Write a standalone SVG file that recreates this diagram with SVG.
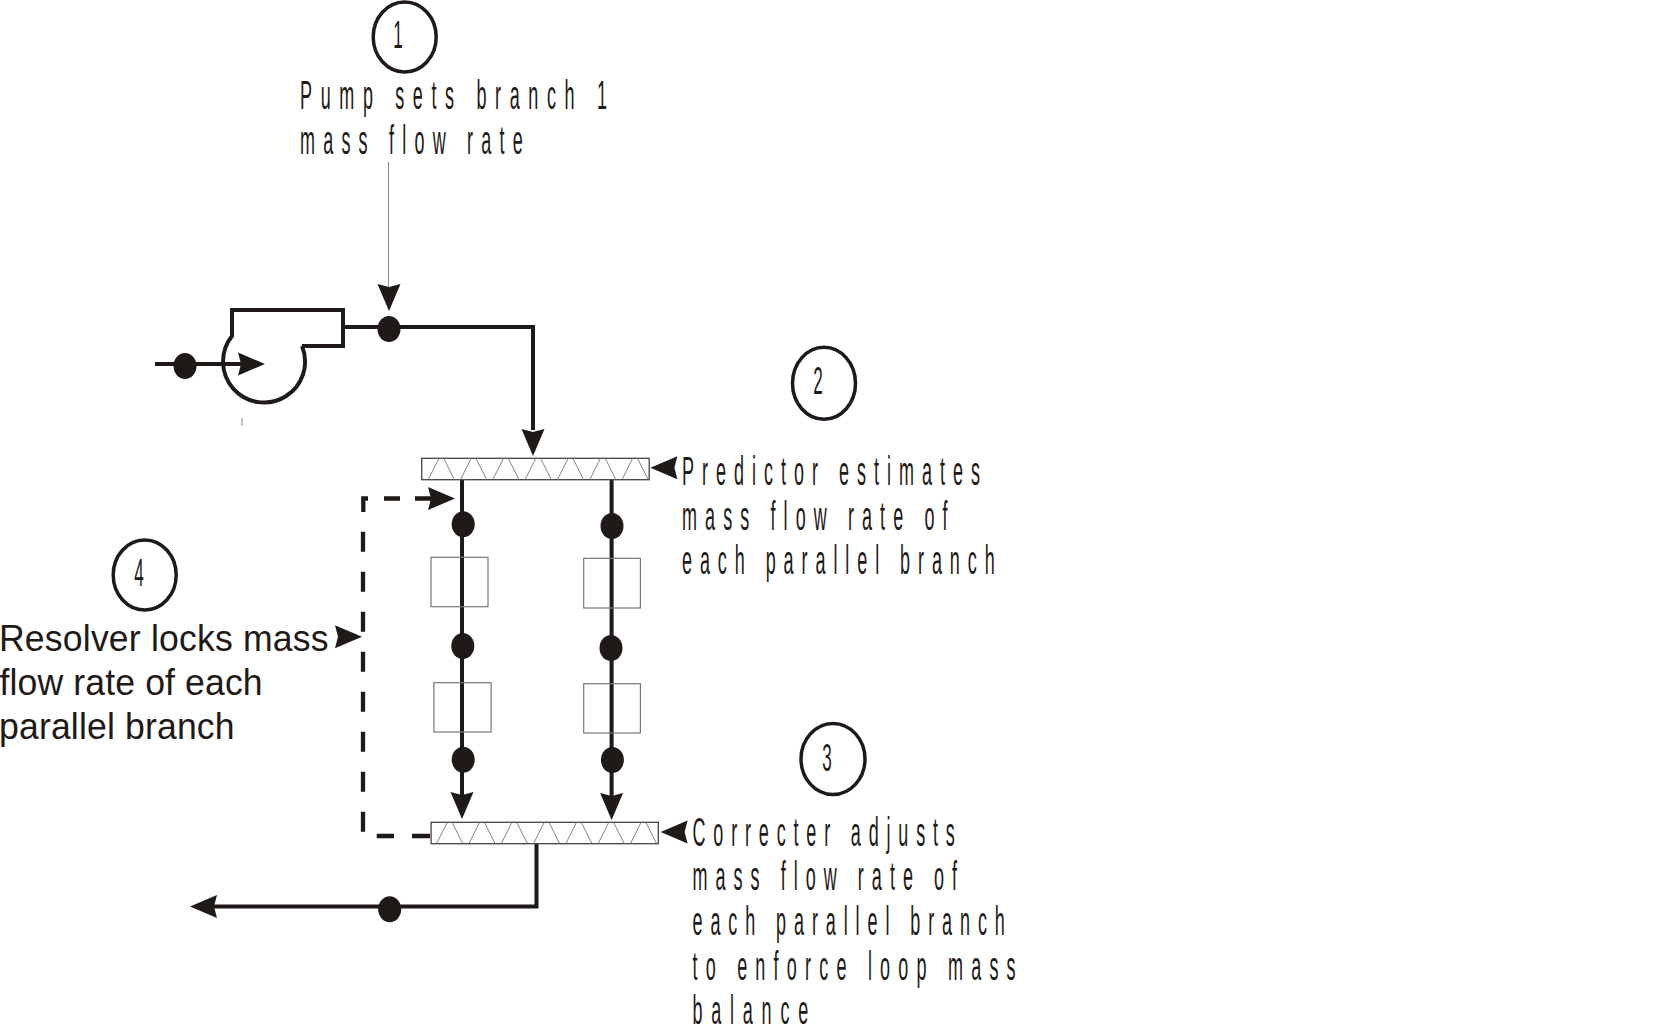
<svg xmlns="http://www.w3.org/2000/svg" width="1656" height="1033" viewBox="0 0 1656 1033">
<style>
.pipe{fill:none;stroke:#1f1a17;stroke-width:4}
.dash{fill:none;stroke:#1f1a17;stroke-width:4.300}
.thin{fill:none;stroke:#8a8a8a;stroke-width:1}
.box{fill:none;stroke:#777;stroke-width:1.200}
.hdr{fill:#fff;stroke:#444;stroke-width:1.300}
.zig{fill:none;stroke:#777;stroke-width:.9}
.dot,.head{fill:#1f1a17}
.circ{fill:#fff;stroke:#1f1a17;stroke-width:3.500}
.n{font-family:"Liberation Sans",Arial,sans-serif;font-size:40px;fill:#1f1a17}
.d{font-family:"Liberation Sans",Arial,sans-serif;font-size:38px;fill:#1f1a17;text-anchor:middle}
.r{font-family:"Liberation Sans",Arial,sans-serif;font-size:37.500px;fill:#1f1a17}
</style>
<defs>
<path id="h" class="head" d="M0 0L-27 -11.500L-24 0L-27 11.500Z"/>
<path id="z" class="zig" d="M0 21L10.500 0M15.500 0L26 21"/>
<ellipse id="d" class="dot" rx="11.500" ry="13"/>
</defs>
<g id="connectors">
<path class="thin" d="M388.500 162V290"/>
<path class="pipe" d="M343 327H533V430"/>
<path class="pipe" d="M155 364H245"/>
<path class="pipe" d="M462 480V800"/>
<path class="pipe" d="M611.600 480V800"/>
<path class="pipe" d="M536.500 844V906.500H210"/>
<path class="dash" d="M430 836H412M394 836H376.700M363 831.700V531.700" stroke-dasharray="20 20"/>
<path class="dash" d="M368 498.500H363.300V512M384 498.500H400M415 498.500H431"/>
<use href="#h" transform="translate(389 311) rotate(90)"/>
<use href="#h" transform="translate(265 364)"/>
<use href="#h" transform="translate(533 456) rotate(90)"/>
<use href="#h" transform="translate(462 819) rotate(90)"/>
<use href="#h" transform="translate(611.600 820) rotate(90)"/>
<use href="#h" transform="translate(190 906.500) rotate(180)"/>
<use href="#h" transform="translate(650.400 467.700) rotate(180)"/>
<use href="#h" transform="translate(660.600 832) rotate(180)"/>
<use href="#h" transform="translate(455 498.500)"/>
<use href="#h" transform="translate(362 636.700)"/>
</g>
<g id="pump">
<path class="pipe" d="M302 346H343V310H232V336A41 41 0 1 0 302 346"/>
<path class="thin" d="M242 418V426"/>
</g>
<g id="dots">
<use href="#d" x="185" y="366"/><use href="#d" x="389" y="329"/><use href="#d" x="389.700" y="909.300"/>
<use href="#d" x="463.200" y="524.300"/><use href="#d" x="462.800" y="646"/><use href="#d" x="463.200" y="759.700"/>
<use href="#d" x="612" y="526"/><use href="#d" x="611" y="648"/><use href="#d" x="612.400" y="760"/>
</g>
<g id="boxes">
<rect class="box" x="431" y="557.300" width="57" height="49.400"/>
<rect class="box" x="433.900" y="682.700" width="57.200" height="49.300"/>
<rect class="box" x="583.700" y="558.300" width="56.700" height="49.700"/>
<rect class="box" x="583.700" y="683.700" width="56.700" height="49.300"/>
</g>
<g id="predictor">
<rect class="hdr" x="421.700" y="458.300" width="227.500" height="21.400"/>
<use href="#z" x="428.300" y="458.500"/><use href="#z" x="460.600" y="458.500"/><use href="#z" x="492.900" y="458.500"/><use href="#z" x="525.200" y="458.500"/><use href="#z" x="557.500" y="458.500"/><use href="#z" x="589.800" y="458.500"/><use href="#z" x="622.100" y="458.500"/>
</g>
<g id="corrector">
<rect class="hdr" x="431.100" y="822.300" width="227.200" height="21.400"/>
<use href="#z" x="436.700" y="822.500"/><use href="#z" x="469" y="822.500"/><use href="#z" x="501.300" y="822.500"/><use href="#z" x="533.600" y="822.500"/><use href="#z" x="565.900" y="822.500"/><use href="#z" x="598.200" y="822.500"/><use href="#z" x="630.500" y="822.500"/>
</g>
<g id="step1">
<ellipse class="circ" cx="404.700" cy="37" rx="31.500" ry="35"/>
<text class="d" transform="translate(398 48) scale(.45 1)">1</text>
<text class="n" transform="translate(300 109) scale(.45 1)" textLength="682">Pump sets branch 1</text>
<text class="n" transform="translate(300 154) scale(.45 1)" textLength="495">mass flow rate</text>
</g>
<g id="step2">
<ellipse class="circ" cx="824" cy="383.300" rx="31.500" ry="36"/>
<text class="d" transform="translate(818 393.500) scale(.45 1)">2</text>
<text class="n" transform="translate(682 485) scale(.45 1)" textLength="662">Predictor estimates</text>
<text class="n" transform="translate(682 530) scale(.45 1)" textLength="590">mass flow rate of</text>
<text class="n" transform="translate(682 574) scale(.45 1)" textLength="695">each parallel branch</text>
</g>
<g id="step3">
<ellipse class="circ" cx="833" cy="759" rx="32" ry="35.500"/>
<text class="d" transform="translate(827 771) scale(.45 1)">3</text>
<text class="n" transform="translate(692.500 846) scale(.45 1)" textLength="583">Correcter adjusts</text>
<text class="n" transform="translate(692.500 890) scale(.45 1)" textLength="588">mass flow rate of</text>
<text class="n" transform="translate(692.500 935) scale(.45 1)" textLength="694">each parallel branch</text>
<text class="n" transform="translate(692.500 980) scale(.45 1)" textLength="718">to enforce loop mass</text>
<text class="n" transform="translate(692.500 1024) scale(.45 1)" textLength="257">balance</text>
</g>
<g id="step4">
<ellipse class="circ" cx="144.700" cy="575" rx="31.500" ry="35"/>
<text class="d" transform="translate(139 586) scale(.45 1)">4</text>
<text class="r" transform="translate(-1 651) scale(.95 1)" textLength="347">Resolver locks mass</text>
<text class="r" transform="translate(-.5 695) scale(.95 1)" textLength="277">flow rate of each</text>
<text class="r" transform="translate(-1 739) scale(.95 1)" textLength="248">parallel branch</text>
</g>
</svg>
